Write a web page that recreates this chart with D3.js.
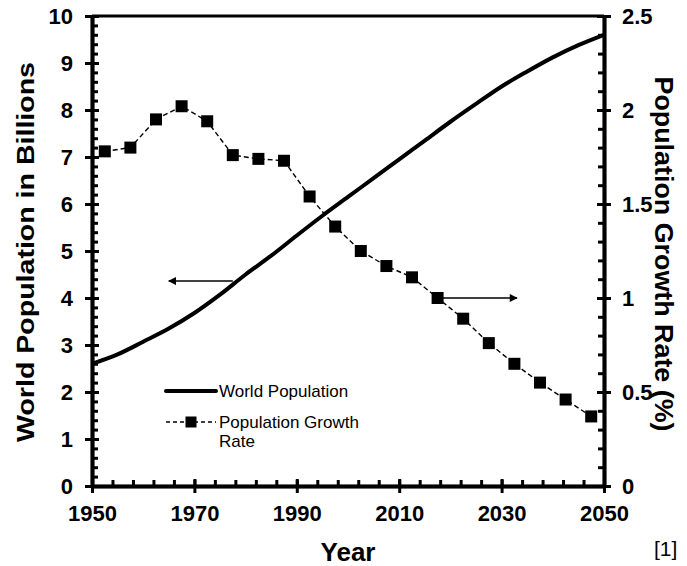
<!DOCTYPE html>
<html lang="en">
<head>
    <meta charset="UTF-8">
    <script src="https://cdnjs.cloudflare.com/ajax/libs/d3/7.8.5/d3.min.js"></script>
    <style>
        body { margin: 0; background: #fff; }
        svg { font-family: "Liberation Sans", Arial, sans-serif; }
        .axis path, .axis line { stroke: #000; }
        .axis text { font-weight: bold; font-size: 22px; fill: #000; }
    </style>
</head>
<body>
<svg id="chart" width="687" height="566"></svg>
<script>
    // world population (billions)
    const popYears = [1950, 1955, 1960, 1965, 1970, 1975, 1980, 1985, 1990, 1995, 2000,
        2005, 2010, 2015, 2020, 2025, 2030, 2035, 2040, 2045, 2050];
    const population = [2.6, 2.8, 3.07, 3.35, 3.68, 4.07, 4.5, 4.9, 5.33, 5.75, 6.15,
        6.55, 6.95, 7.35, 7.75, 8.13, 8.5, 8.82, 9.12, 9.38, 9.6];

    // growth rate (%) per 5-year period
    const rateYears = [1952.5, 1957.5, 1962.5, 1967.5, 1972.5, 1977.5, 1982.5, 1987.5, 1992.5, 1997.5,
        2002.5, 2007.5, 2012.5, 2017.5, 2022.5, 2027.5, 2032.5, 2037.5, 2042.5, 2047.5];
    const growthRate = [1.78, 1.80, 1.95, 2.02, 1.94, 1.76, 1.74, 1.73, 1.54, 1.38,
        1.25, 1.17, 1.11, 1.0, 0.89, 0.76, 0.65, 0.55, 0.46, 0.37];

    const yearTicks = [1950, 1970, 1990, 2010, 2030, 2050];
    const yearMinor = d3.range(1950, 2051, 4);
    const popTicks = d3.range(0, 11);
    const popMinor = d3.range(0, 10.01, 0.2);
    const rateTicks = [0, 0.5, 1, 1.5, 2, 2.5];
    const rateMinor = d3.range(0, 2.51, 0.1);

    // arrow annotations: [from, to] in data units
    const popArrow = {years: [1977.5, 1965], value: 4.36};
    const rateArrow = {years: [2017.5, 2033], value: 1.0};

    const svg = d3.select('#chart');

    const x = d3.scaleLinear().domain([1950, 2050]).range([92, 604]);
    const yPop = d3.scaleLinear().domain([0, 10]).range([486, 16]);
    const yRate = d3.scaleLinear().domain([0, 2.5]).range([486, 16]);

    svg.append('defs').append('marker')
        .attr('id', 'head')
        .attr('viewBox', '0 0 10 10')
        .attr('refX', 9).attr('refY', 5)
        .attr('markerWidth', 9).attr('markerHeight', 8)
        .attr('markerUnits', 'userSpaceOnUse')
        .attr('orient', 'auto')
        .append('path').attr('d', 'M0,0L10,5L0,10Z').attr('fill', '#000');

    // top frame
    svg.append('line')
        .attr('x1', x(1950)).attr('x2', x(2050))
        .attr('y1', yPop(10)).attr('y2', yPop(10))
        .attr('stroke', '#000').attr('stroke-width', 3);

    function drawAxis(axis, tx, ty, labels) {
        const g = svg.append('g').attr('class', 'axis')
            .attr('transform', `translate(${tx},${ty})`)
            .call(axis);
        g.select('.domain').attr('stroke-width', 3.5);
        g.selectAll('.tick line').attr('stroke-width', 3);
        if (!labels) g.selectAll('text').remove();
        return g;
    }

    // bottom axis
    drawAxis(d3.axisBottom(x).tickValues(yearMinor).tickSize(-6).tickSizeOuter(0), 0, 486, false);
    const xg = drawAxis(d3.axisBottom(x).tickValues(yearTicks).tickSize(7).tickSizeOuter(0)
        .tickFormat(d3.format('d')), 0, 486, true);
    drawAxis(d3.axisBottom(x).tickValues(yearTicks).tickSize(-7).tickSizeOuter(0), 0, 486, false);
    xg.selectAll('text').attr('y', 14).attr('dy', '0.95em');

    // left axis
    drawAxis(d3.axisLeft(yPop).tickValues(popMinor).tickSize(-6).tickSizeOuter(0), 92, 0, false);
    const lg = drawAxis(d3.axisLeft(yPop).tickValues(popTicks).tickSize(7).tickSizeOuter(0), 92, 0, true);
    drawAxis(d3.axisLeft(yPop).tickValues(popTicks).tickSize(-7).tickSizeOuter(0), 92, 0, false);
    lg.selectAll('text').attr('x', -19);

    // right axis
    drawAxis(d3.axisRight(yRate).tickValues(rateMinor).tickSize(-6).tickSizeOuter(0), 604, 0, false);
    const rg = drawAxis(d3.axisRight(yRate).tickValues(rateTicks).tickSize(7).tickSizeOuter(0)
        .tickFormat(d => String(d)), 604, 0, true);
    drawAxis(d3.axisRight(yRate).tickValues(rateTicks).tickSize(-7).tickSizeOuter(0), 604, 0, false);
    rg.selectAll('text').attr('x', 18);

    // population line
    const popLine = d3.line()
        .x((d, i) => x(popYears[i]))
        .y(d => yPop(d))
        .curve(d3.curveMonotoneX);
    svg.append('path')
        .datum(population)
        .attr('d', popLine)
        .attr('fill', 'none')
        .attr('stroke', '#000')
        .attr('stroke-width', 4);

    // growth rate dashed line + squares
    const rateLine = d3.line()
        .x((d, i) => x(rateYears[i]))
        .y(d => yRate(d));
    svg.append('path')
        .datum(growthRate)
        .attr('d', rateLine)
        .attr('fill', 'none')
        .attr('stroke', '#000')
        .attr('stroke-width', 1.4)
        .attr('stroke-dasharray', '5,3');
    svg.append('g').selectAll('rect')
        .data(growthRate).enter()
        .append('rect')
        .attr('x', (d, i) => x(rateYears[i]) - 6)
        .attr('y', d => yRate(d) - 6)
        .attr('width', 12)
        .attr('height', 12)
        .attr('fill', '#000');

    // arrows
    svg.append('line')
        .attr('x1', x(popArrow.years[0])).attr('x2', x(popArrow.years[1]))
        .attr('y1', yPop(popArrow.value)).attr('y2', yPop(popArrow.value))
        .attr('stroke', '#000').attr('stroke-width', 1.5)
        .attr('marker-end', 'url(#head)');
    svg.append('line')
        .attr('x1', x(rateArrow.years[0])).attr('x2', x(rateArrow.years[1]))
        .attr('y1', yRate(rateArrow.value)).attr('y2', yRate(rateArrow.value))
        .attr('stroke', '#000').attr('stroke-width', 1.5)
        .attr('marker-end', 'url(#head)');

    // legend
    const leg = svg.append('g');
    leg.append('line').attr('x1', 166).attr('x2', 216).attr('y1', 391).attr('y2', 391)
        .attr('stroke', '#000').attr('stroke-width', 4).attr('stroke-linecap', 'round');
    leg.append('text').attr('x', 219).attr('y', 391).attr('dy', '0.35em')
        .attr('font-size', 17).text('World Population');
    leg.append('line').attr('x1', 166).attr('x2', 216).attr('y1', 422).attr('y2', 422)
        .attr('stroke', '#000').attr('stroke-width', 1.3).attr('stroke-dasharray', '4,3');
    leg.append('rect').attr('x', 185.5).attr('y', 416.5).attr('width', 11).attr('height', 11);
    leg.append('text').attr('x', 219).attr('y', 422).attr('dy', '0.35em')
        .attr('font-size', 17).text('Population Growth');
    leg.append('text').attr('x', 219).attr('y', 441).attr('dy', '0.35em')
        .attr('font-size', 17).text('Rate');

    // titles
    svg.append('text')
        .attr('transform', 'translate(34,252) rotate(-90)')
        .attr('text-anchor', 'middle')
        .attr('font-weight', 'bold').attr('font-size', 24)
        .attr('textLength', 380).attr('lengthAdjust', 'spacingAndGlyphs')
        .text('World Population in Billions');
    svg.append('text')
        .attr('transform', 'translate(655,254) rotate(90)')
        .attr('text-anchor', 'middle')
        .attr('font-weight', 'bold').attr('font-size', 25)
        .attr('textLength', 355).attr('lengthAdjust', 'spacingAndGlyphs')
        .text('Population Growth Rate (%)');
    svg.append('text')
        .attr('x', 348).attr('y', 561)
        .attr('text-anchor', 'middle')
        .attr('font-weight', 'bold').attr('font-size', 26)
        .text('Year');
    svg.append('text')
        .attr('x', 654).attr('y', 556)
        .attr('font-size', 21)
        .text('[1]');
</script>
</body>
</html>
